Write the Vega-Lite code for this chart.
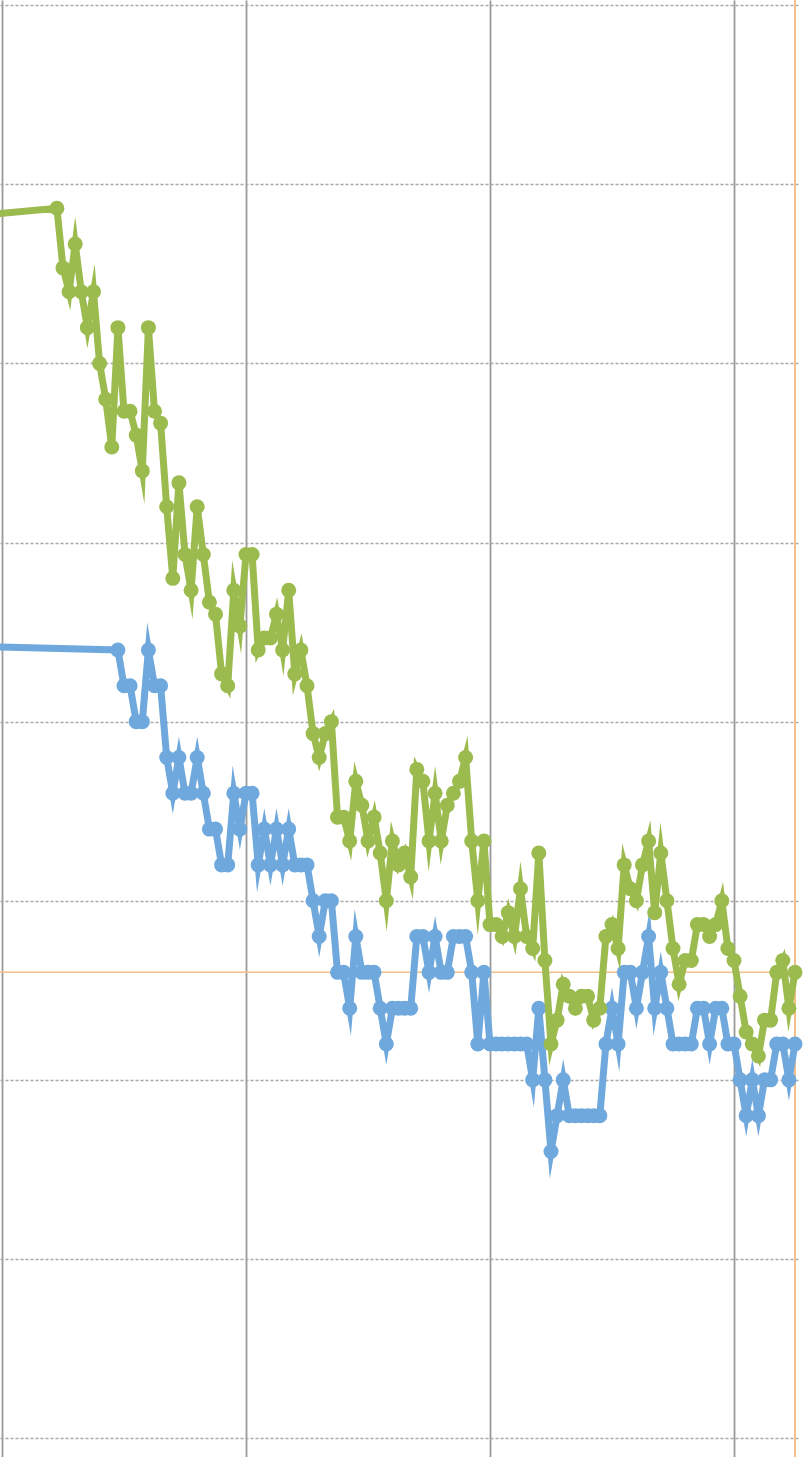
{
  "$schema": "https://vega.github.io/schema/vega-lite/v6.json",
  "width": 798,
  "height": 1457,
  "autosize": {"type": "none"},
  "padding": {"left": 0, "top": 0, "right": 12, "bottom": 0},
  "background": "white",
  "config": {"view": {"stroke": null}},
  "datasets": {
    "refs": [{"kind": "h", "value": 39}, {"kind": "v", "day": 130}],
    "series": [
      {"s": "green", "day": -12, "value": 102}, {"s": "green", "day": 9, "value": 103}, {"s": "green", "day": 10, "value": 98}, {"s": "green", "day": 11, "value": 96}, {"s": "green", "day": 12, "value": 100}, {"s": "green", "day": 13, "value": 96}, {"s": "green", "day": 14, "value": 93}, {"s": "green", "day": 15, "value": 96}, {"s": "green", "day": 16, "value": 90}, {"s": "green", "day": 17, "value": 87}, {"s": "green", "day": 18, "value": 83}, {"s": "green", "day": 19, "value": 93}, {"s": "green", "day": 20, "value": 86}, {"s": "green", "day": 21, "value": 86}, {"s": "green", "day": 22, "value": 84}, {"s": "green", "day": 23, "value": 81}, {"s": "green", "day": 24, "value": 93}, {"s": "green", "day": 25, "value": 86}, {"s": "green", "day": 26, "value": 85}, {"s": "green", "day": 27, "value": 78}, {"s": "green", "day": 28, "value": 72}, {"s": "green", "day": 29, "value": 80}, {"s": "green", "day": 30, "value": 74}, {"s": "green", "day": 31, "value": 71}, {"s": "green", "day": 32, "value": 78}, {"s": "green", "day": 33, "value": 74}, {"s": "green", "day": 34, "value": 70}, {"s": "green", "day": 35, "value": 69}, {"s": "green", "day": 36, "value": 64}, {"s": "green", "day": 37, "value": 63}, {"s": "green", "day": 38, "value": 71}, {"s": "green", "day": 39, "value": 68}, {"s": "green", "day": 40, "value": 74}, {"s": "green", "day": 41, "value": 74}, {"s": "green", "day": 42, "value": 66}, {"s": "green", "day": 43, "value": 67}, {"s": "green", "day": 44, "value": 67}, {"s": "green", "day": 45, "value": 69}, {"s": "green", "day": 46, "value": 66}, {"s": "green", "day": 47, "value": 71}, {"s": "green", "day": 48, "value": 64}, {"s": "green", "day": 49, "value": 66}, {"s": "green", "day": 50, "value": 63}, {"s": "green", "day": 51, "value": 59}, {"s": "green", "day": 52, "value": 57}, {"s": "green", "day": 53, "value": 59}, {"s": "green", "day": 54, "value": 60}, {"s": "green", "day": 55, "value": 52}, {"s": "green", "day": 56, "value": 52}, {"s": "green", "day": 57, "value": 50}, {"s": "green", "day": 58, "value": 55}, {"s": "green", "day": 59, "value": 53}, {"s": "green", "day": 60, "value": 50}, {"s": "green", "day": 61, "value": 52}, {"s": "green", "day": 62, "value": 49}, {"s": "green", "day": 63, "value": 45}, {"s": "green", "day": 64, "value": 50}, {"s": "green", "day": 65, "value": 48}, {"s": "green", "day": 66, "value": 49}, {"s": "green", "day": 67, "value": 47}, {"s": "green", "day": 68, "value": 56}, {"s": "green", "day": 69, "value": 55}, {"s": "green", "day": 70, "value": 50}, {"s": "green", "day": 71, "value": 54}, {"s": "green", "day": 72, "value": 50}, {"s": "green", "day": 73, "value": 53}, {"s": "green", "day": 74, "value": 54}, {"s": "green", "day": 75, "value": 55}, {"s": "green", "day": 76, "value": 57}, {"s": "green", "day": 77, "value": 50}, {"s": "green", "day": 78, "value": 45}, {"s": "green", "day": 79, "value": 50}, {"s": "green", "day": 80, "value": 43}, {"s": "green", "day": 81, "value": 43}, {"s": "green", "day": 82, "value": 42}, {"s": "green", "day": 83, "value": 44}, {"s": "green", "day": 84, "value": 42}, {"s": "green", "day": 85, "value": 46}, {"s": "green", "day": 86, "value": 42}, {"s": "green", "day": 87, "value": 41}, {"s": "green", "day": 88, "value": 49}, {"s": "green", "day": 89, "value": 40}, {"s": "green", "day": 90, "value": 33}, {"s": "green", "day": 91, "value": 35}, {"s": "green", "day": 92, "value": 38}, {"s": "green", "day": 93, "value": 37}, {"s": "green", "day": 94, "value": 36}, {"s": "green", "day": 95, "value": 37}, {"s": "green", "day": 96, "value": 37}, {"s": "green", "day": 97, "value": 35}, {"s": "green", "day": 98, "value": 36}, {"s": "green", "day": 99, "value": 42}, {"s": "green", "day": 100, "value": 43}, {"s": "green", "day": 101, "value": 41}, {"s": "green", "day": 102, "value": 48}, {"s": "green", "day": 103, "value": 46}, {"s": "green", "day": 104, "value": 45}, {"s": "green", "day": 105, "value": 48}, {"s": "green", "day": 106, "value": 50}, {"s": "green", "day": 107, "value": 44}, {"s": "green", "day": 108, "value": 49}, {"s": "green", "day": 109, "value": 45}, {"s": "green", "day": 110, "value": 41}, {"s": "green", "day": 111, "value": 38}, {"s": "green", "day": 112, "value": 40}, {"s": "green", "day": 113, "value": 40}, {"s": "green", "day": 114, "value": 43}, {"s": "green", "day": 115, "value": 43}, {"s": "green", "day": 116, "value": 42}, {"s": "green", "day": 117, "value": 43}, {"s": "green", "day": 118, "value": 45}, {"s": "green", "day": 119, "value": 41}, {"s": "green", "day": 120, "value": 40}, {"s": "green", "day": 121, "value": 37}, {"s": "green", "day": 122, "value": 34}, {"s": "green", "day": 123, "value": 33}, {"s": "green", "day": 124, "value": 32}, {"s": "green", "day": 125, "value": 35}, {"s": "green", "day": 126, "value": 35}, {"s": "green", "day": 127, "value": 39}, {"s": "green", "day": 128, "value": 40}, {"s": "green", "day": 129, "value": 36}, {"s": "green", "day": 130, "value": 39},
      {"s": "blue", "day": -12, "value": 66.4}, {"s": "blue", "day": 19, "value": 66}, {"s": "blue", "day": 20, "value": 63}, {"s": "blue", "day": 21, "value": 63}, {"s": "blue", "day": 22, "value": 60}, {"s": "blue", "day": 23, "value": 60}, {"s": "blue", "day": 24, "value": 66}, {"s": "blue", "day": 25, "value": 63}, {"s": "blue", "day": 26, "value": 63}, {"s": "blue", "day": 27, "value": 57}, {"s": "blue", "day": 28, "value": 54}, {"s": "blue", "day": 29, "value": 57}, {"s": "blue", "day": 30, "value": 54}, {"s": "blue", "day": 31, "value": 54}, {"s": "blue", "day": 32, "value": 57}, {"s": "blue", "day": 33, "value": 54}, {"s": "blue", "day": 34, "value": 51}, {"s": "blue", "day": 35, "value": 51}, {"s": "blue", "day": 36, "value": 48}, {"s": "blue", "day": 37, "value": 48}, {"s": "blue", "day": 38, "value": 54}, {"s": "blue", "day": 39, "value": 51}, {"s": "blue", "day": 40, "value": 54}, {"s": "blue", "day": 41, "value": 54}, {"s": "blue", "day": 42, "value": 48}, {"s": "blue", "day": 43, "value": 51}, {"s": "blue", "day": 44, "value": 48}, {"s": "blue", "day": 45, "value": 51}, {"s": "blue", "day": 46, "value": 48}, {"s": "blue", "day": 47, "value": 51}, {"s": "blue", "day": 48, "value": 48}, {"s": "blue", "day": 49, "value": 48}, {"s": "blue", "day": 50, "value": 48}, {"s": "blue", "day": 51, "value": 45}, {"s": "blue", "day": 52, "value": 42}, {"s": "blue", "day": 53, "value": 45}, {"s": "blue", "day": 54, "value": 45}, {"s": "blue", "day": 55, "value": 39}, {"s": "blue", "day": 56, "value": 39}, {"s": "blue", "day": 57, "value": 36}, {"s": "blue", "day": 58, "value": 42}, {"s": "blue", "day": 59, "value": 39}, {"s": "blue", "day": 60, "value": 39}, {"s": "blue", "day": 61, "value": 39}, {"s": "blue", "day": 62, "value": 36}, {"s": "blue", "day": 63, "value": 33}, {"s": "blue", "day": 64, "value": 36}, {"s": "blue", "day": 65, "value": 36}, {"s": "blue", "day": 66, "value": 36}, {"s": "blue", "day": 67, "value": 36}, {"s": "blue", "day": 68, "value": 42}, {"s": "blue", "day": 69, "value": 42}, {"s": "blue", "day": 70, "value": 39}, {"s": "blue", "day": 71, "value": 42}, {"s": "blue", "day": 72, "value": 39}, {"s": "blue", "day": 73, "value": 39}, {"s": "blue", "day": 74, "value": 42}, {"s": "blue", "day": 75, "value": 42}, {"s": "blue", "day": 76, "value": 42}, {"s": "blue", "day": 77, "value": 39}, {"s": "blue", "day": 78, "value": 33}, {"s": "blue", "day": 79, "value": 39}, {"s": "blue", "day": 80, "value": 33}, {"s": "blue", "day": 81, "value": 33}, {"s": "blue", "day": 82, "value": 33}, {"s": "blue", "day": 83, "value": 33}, {"s": "blue", "day": 84, "value": 33}, {"s": "blue", "day": 85, "value": 33}, {"s": "blue", "day": 86, "value": 33}, {"s": "blue", "day": 87, "value": 30}, {"s": "blue", "day": 88, "value": 36}, {"s": "blue", "day": 89, "value": 30}, {"s": "blue", "day": 90, "value": 24}, {"s": "blue", "day": 91, "value": 27}, {"s": "blue", "day": 92, "value": 30}, {"s": "blue", "day": 93, "value": 27}, {"s": "blue", "day": 94, "value": 27}, {"s": "blue", "day": 95, "value": 27}, {"s": "blue", "day": 96, "value": 27}, {"s": "blue", "day": 97, "value": 27}, {"s": "blue", "day": 98, "value": 27}, {"s": "blue", "day": 99, "value": 33}, {"s": "blue", "day": 100, "value": 36}, {"s": "blue", "day": 101, "value": 33}, {"s": "blue", "day": 102, "value": 39}, {"s": "blue", "day": 103, "value": 39}, {"s": "blue", "day": 104, "value": 36}, {"s": "blue", "day": 105, "value": 39}, {"s": "blue", "day": 106, "value": 42}, {"s": "blue", "day": 107, "value": 36}, {"s": "blue", "day": 108, "value": 39}, {"s": "blue", "day": 109, "value": 36}, {"s": "blue", "day": 110, "value": 33}, {"s": "blue", "day": 111, "value": 33}, {"s": "blue", "day": 112, "value": 33}, {"s": "blue", "day": 113, "value": 33}, {"s": "blue", "day": 114, "value": 36}, {"s": "blue", "day": 115, "value": 36}, {"s": "blue", "day": 116, "value": 33}, {"s": "blue", "day": 117, "value": 36}, {"s": "blue", "day": 118, "value": 36}, {"s": "blue", "day": 119, "value": 33}, {"s": "blue", "day": 120, "value": 33}, {"s": "blue", "day": 121, "value": 30}, {"s": "blue", "day": 122, "value": 27}, {"s": "blue", "day": 123, "value": 30}, {"s": "blue", "day": 124, "value": 27}, {"s": "blue", "day": 125, "value": 30}, {"s": "blue", "day": 126, "value": 30}, {"s": "blue", "day": 127, "value": 33}, {"s": "blue", "day": 128, "value": 33}, {"s": "blue", "day": 129, "value": 30}, {"s": "blue", "day": 130, "value": 33}
    ]
  },
  "layer": [
    {
      "data": {"name": "refs"},
      "transform": [{"filter": "datum.kind === 'h'"}],
      "mark": {"type": "rule", "color": "#F5BF88", "strokeWidth": 1.5},
      "encoding": {
        "y": {"field": "value", "type": "quantitative",
              "scale": {"domain": [-1.59, 120.44], "nice": false, "zero": false},
              "axis": {"values": [0, 15, 30, 45, 60, 75, 90, 105, 120], "grid": true, "gridDash": [3, 2], "gridColor": "#A8A8A8", "gridWidth": 1.4, "labels": false, "ticks": false, "domain": false, "title": null}}
      }
    },
    {
      "data": {"name": "refs"},
      "transform": [{"filter": "datum.kind === 'v'"}],
      "mark": {"type": "rule", "color": "#F5BF88", "strokeWidth": 2},
      "encoding": {
        "x": {"field": "day", "type": "quantitative",
              "scale": {"domain": [-0.328, 130.49], "nice": false, "zero": false},
              "axis": {"values": [0, 40, 80, 120], "grid": true, "gridColor": "#9A9A9A", "gridWidth": 1.8, "labels": false, "ticks": false, "domain": false, "title": null}}
      }
    },
    {
      "data": {"name": "series"},
      "transform": [{"filter": "datum.s === 'blue'"}],
      "mark": {"type": "line", "color": "#6FA8DC", "strokeWidth": 7, "strokeJoin": "miter", "strokeMiterLimit": 10},
      "encoding": {
        "x": {"field": "day", "type": "quantitative"},
        "y": {"field": "value", "type": "quantitative"}
      }
    },
    {
      "data": {"name": "series"},
      "transform": [{"filter": "datum.s === 'blue' && datum.day >= 0"}],
      "mark": {"type": "point", "shape": "circle", "filled": true, "color": "#6FA8DC", "size": 225, "opacity": 1},
      "encoding": {
        "x": {"field": "day", "type": "quantitative"},
        "y": {"field": "value", "type": "quantitative"}
      }
    },
    {
      "data": {"name": "series"},
      "transform": [{"filter": "datum.s === 'green'"}],
      "mark": {"type": "line", "color": "#9BBB4E", "strokeWidth": 7, "strokeJoin": "miter", "strokeMiterLimit": 10},
      "encoding": {
        "x": {"field": "day", "type": "quantitative"},
        "y": {"field": "value", "type": "quantitative"}
      }
    },
    {
      "data": {"name": "series"},
      "transform": [{"filter": "datum.s === 'green' && datum.day >= 0"}],
      "mark": {"type": "point", "shape": "circle", "filled": true, "color": "#9BBB4E", "size": 225, "opacity": 1},
      "encoding": {
        "x": {"field": "day", "type": "quantitative"},
        "y": {"field": "value", "type": "quantitative"}
      }
    }
  ]
}
